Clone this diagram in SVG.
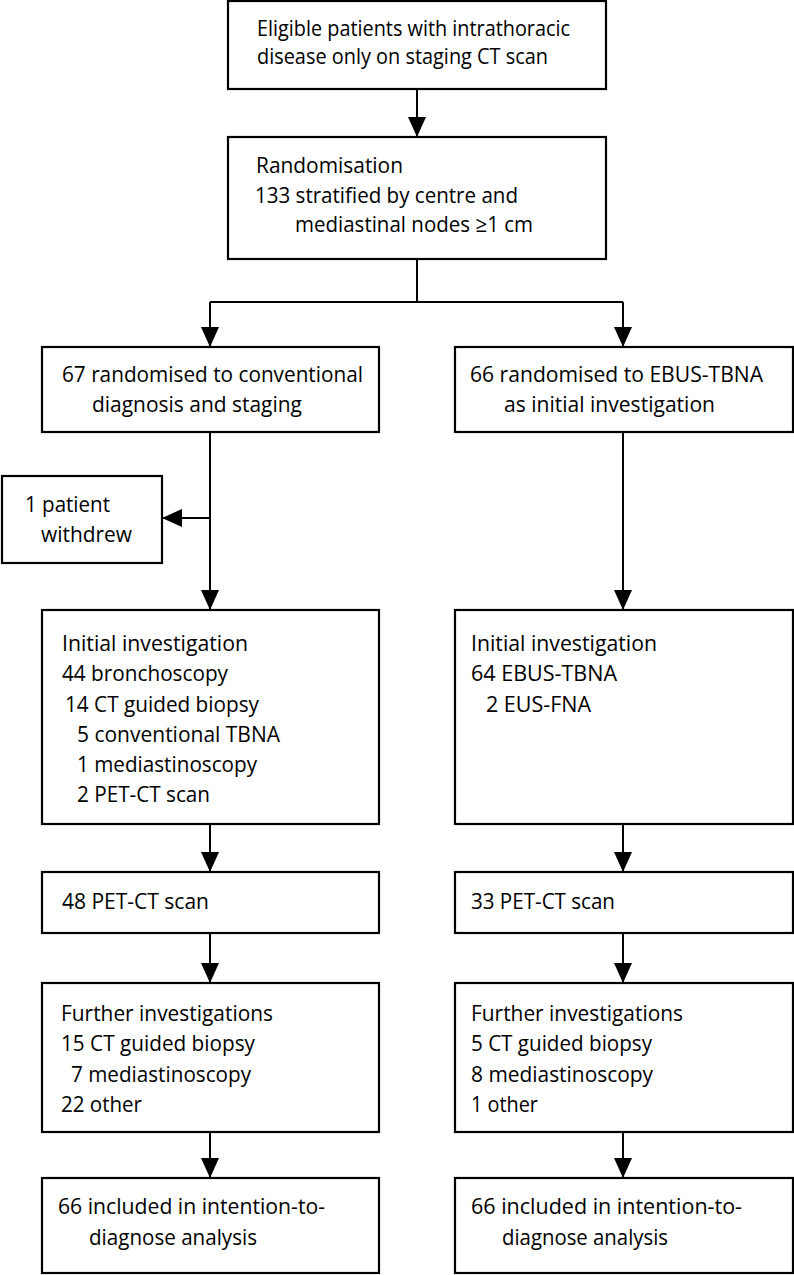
<svg xmlns="http://www.w3.org/2000/svg" width="794" height="1275" viewBox="0 0 794 1275">
<style>
.box{fill:#fff;stroke:#000;stroke-width:2.2}
.ln{fill:none;stroke:#000;stroke-width:2}
text{font-family:"Open Sans","Noto Sans","Liberation Sans",sans-serif;font-size:22px;fill:#000}
</style>
<defs>
<marker id="ah" markerUnits="userSpaceOnUse" markerWidth="20" markerHeight="18" viewBox="0 0 20 18" refX="20" refY="9" orient="auto">
<path d="M0,0 L20,9 L0,18 z" fill="#000"/>
</marker>
</defs>
<rect width="794" height="1275" fill="#fff"/>
<g id="connectors">
<path class="ln" d="M417,89 V137" marker-end="url(#ah)"/>
<path class="ln" d="M417,259 V302 M210,302 H623"/>
<path class="ln" d="M210,302 V347" marker-end="url(#ah)"/>
<path class="ln" d="M623,302 V347" marker-end="url(#ah)"/>
<path class="ln" d="M210,432 V610" marker-end="url(#ah)"/>
<path class="ln" d="M210,518 H162" marker-end="url(#ah)"/>
<path class="ln" d="M623,432 V610" marker-end="url(#ah)"/>
<path class="ln" d="M210,824 V872" marker-end="url(#ah)"/>
<path class="ln" d="M623,824 V872" marker-end="url(#ah)"/>
<path class="ln" d="M210,933 V983" marker-end="url(#ah)"/>
<path class="ln" d="M623,933 V983" marker-end="url(#ah)"/>
<path class="ln" d="M210,1132 V1178" marker-end="url(#ah)"/>
<path class="ln" d="M623,1132 V1178" marker-end="url(#ah)"/>
</g>
<g id="eligible">
<rect class="box" x="228" y="1" width="378" height="88"/>
<text x="257" y="36" textLength="313" lengthAdjust="spacingAndGlyphs">Eligible patients with intrathoracic</text>
<text x="257" y="64" textLength="291" lengthAdjust="spacingAndGlyphs">disease only on staging CT scan</text>
</g>
<g id="randomisation">
<rect class="box" x="228" y="137" width="378" height="122"/>
<text x="256" y="173" textLength="147" lengthAdjust="spacingAndGlyphs">Randomisation</text>
<text x="255" y="203" textLength="263" lengthAdjust="spacingAndGlyphs">133 stratified by centre and</text>
<text x="295" y="232" textLength="238" lengthAdjust="spacingAndGlyphs">mediastinal nodes ≥1 cm</text>
</g>
<g id="conventional">
<rect class="box" x="42" y="347" width="337" height="85"/>
<text x="62" y="382" textLength="301" lengthAdjust="spacingAndGlyphs">67 randomised to conventional</text>
<text x="92" y="412" textLength="210" lengthAdjust="spacingAndGlyphs">diagnosis and staging</text>
</g>
<g id="ebus">
<rect class="box" x="455" y="347" width="338" height="85"/>
<text x="470" y="382" textLength="293" lengthAdjust="spacingAndGlyphs">66 randomised to EBUS-TBNA</text>
<text x="504" y="412" textLength="211" lengthAdjust="spacingAndGlyphs">as initial investigation</text>
</g>
<g id="withdrew">
<rect class="box" x="2" y="476" width="160" height="87"/>
<text x="25" y="512" textLength="85" lengthAdjust="spacingAndGlyphs">1 patient</text>
<text x="41" y="542" textLength="91" lengthAdjust="spacingAndGlyphs">withdrew</text>
</g>
<g id="initial-left">
<rect class="box" x="42" y="610" width="337" height="214"/>
<text x="62" y="651" textLength="186" lengthAdjust="spacingAndGlyphs">Initial investigation</text>
<text x="62" y="681" textLength="166" lengthAdjust="spacingAndGlyphs">44 bronchoscopy</text>
<text x="65" y="712" textLength="194" lengthAdjust="spacingAndGlyphs">14 CT guided biopsy</text>
<text x="77" y="742" textLength="203" lengthAdjust="spacingAndGlyphs">5 conventional TBNA</text>
<text x="77" y="772" textLength="180" lengthAdjust="spacingAndGlyphs">1 mediastinoscopy</text>
<text x="77" y="802" textLength="133" lengthAdjust="spacingAndGlyphs">2 PET-CT scan</text>
</g>
<g id="initial-right">
<rect class="box" x="455" y="610" width="338" height="214"/>
<text x="471" y="651" textLength="186" lengthAdjust="spacingAndGlyphs">Initial investigation</text>
<text x="471" y="681" textLength="146" lengthAdjust="spacingAndGlyphs">64 EBUS-TBNA</text>
<text x="486" y="712" textLength="105" lengthAdjust="spacingAndGlyphs">2 EUS-FNA</text>
</g>
<g id="pet-left">
<rect class="box" x="42" y="872" width="337" height="61"/>
<text x="62" y="909" textLength="147" lengthAdjust="spacingAndGlyphs">48 PET-CT scan</text>
</g>
<g id="pet-right">
<rect class="box" x="455" y="872" width="338" height="61"/>
<text x="471" y="909" textLength="144" lengthAdjust="spacingAndGlyphs">33 PET-CT scan</text>
</g>
<g id="further-left">
<rect class="box" x="42" y="983" width="337" height="149"/>
<text x="61" y="1021" textLength="212" lengthAdjust="spacingAndGlyphs">Further investigations</text>
<text x="61" y="1051" textLength="194" lengthAdjust="spacingAndGlyphs">15 CT guided biopsy</text>
<text x="71" y="1082" textLength="180" lengthAdjust="spacingAndGlyphs">7 mediastinoscopy</text>
<text x="61" y="1112" textLength="81" lengthAdjust="spacingAndGlyphs">22 other</text>
</g>
<g id="further-right">
<rect class="box" x="455" y="983" width="338" height="149"/>
<text x="471" y="1021" textLength="212" lengthAdjust="spacingAndGlyphs">Further investigations</text>
<text x="471" y="1051" textLength="181" lengthAdjust="spacingAndGlyphs">5 CT guided biopsy</text>
<text x="471" y="1082" textLength="182" lengthAdjust="spacingAndGlyphs">8 mediastinoscopy</text>
<text x="471" y="1112" textLength="67" lengthAdjust="spacingAndGlyphs">1 other</text>
</g>
<g id="final-left">
<rect class="box" x="42" y="1178" width="337" height="95"/>
<text x="58" y="1214" textLength="267" lengthAdjust="spacingAndGlyphs">66 included in intention-to-</text>
<text x="89" y="1245" textLength="168" lengthAdjust="spacingAndGlyphs">diagnose analysis</text>
</g>
<g id="final-right">
<rect class="box" x="455" y="1178" width="338" height="95"/>
<text x="471" y="1214" textLength="271" lengthAdjust="spacingAndGlyphs">66 included in intention-to-</text>
<text x="502" y="1245" textLength="166" lengthAdjust="spacingAndGlyphs">diagnose analysis</text>
</g>
</svg>
